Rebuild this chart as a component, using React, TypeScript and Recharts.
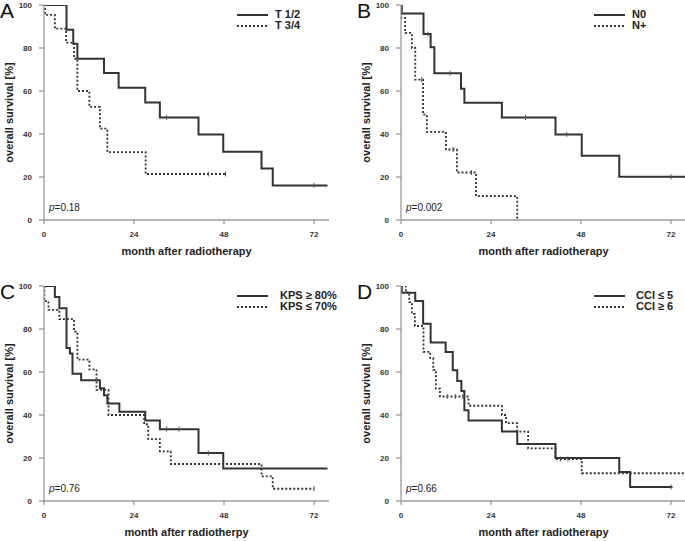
import React from 'react';
import { LineChart, Line, XAxis, YAxis } from 'recharts';

// ---- Data (months, survival %) ----
// Panel A: T stage
const aSolidTime = [0, 6, 7.8, 8.9, 16, 19.9, 27, 30.9, 41.2, 47.8, 58, 61, 75.6];
const aSolidSurv = [100, 88.5, 82, 75, 68.4, 61.5, 54.6, 47.7, 39.8, 31.7, 24, 16.1, 16.1];
const aSolidCens = [32.7, 72];
const aDotTime = [0, 0.3, 2.9, 5.9, 8, 8.9, 12.1, 14.9, 16.9, 27.1, 48.4];
const aDotSurv = [100, 95.4, 89, 82.5, 75, 60, 52.6, 42.5, 31.6, 21.4, 21.4];
const aDotCens = [43.8, 48.4];

// Panel B: N stage
const bSolidTime = [0, 0.2, 6, 7.9, 8.9, 16, 16.9, 26.9, 41.2, 48.2, 58.2, 76];
const bSolidSurv = [100, 96, 86.5, 80.3, 68.3, 61.1, 54.5, 47.7, 39.8, 29.9, 20.1, 20.1];
const bSolidCens = [7.2, 13.1, 33.2, 44.2, 72];
const bDotTime = [0, 0.1, 1.1, 2.9, 3.8, 5.9, 6.9, 12, 14.9, 20, 31];
const bDotSurv = [100, 94, 87, 80, 65.3, 49, 41, 32.8, 22.1, 11.1, 0];
const bDotCens = [5.5, 13.9, 18.8];

// Panel C: KPS
const cSolidTime = [0, 2.9, 4.1, 6, 6.9, 7.6, 9.9, 14.9, 16, 16.9, 20.1, 27, 30.9, 41.2, 47.8, 75.6];
const cSolidSurv = [100, 94.9, 89.7, 71.2, 68.6, 59.2, 56.2, 52.5, 49.2, 45.4, 41.5, 37.5, 33.4, 22.3, 15.1, 15.1];
const cSolidCens = [14, 32.7, 36, 43.8];
const cDotTime = [0, 0.1, 1.2, 4.1, 8, 8.9, 12.1, 14, 17.2, 26.7, 27.8, 30.9, 33.8, 58, 61, 72];
const cDotSurv = [100, 93, 88.9, 84.6, 78.8, 65.8, 61.2, 51.7, 40, 35.7, 28.8, 23.1, 17.2, 11.5, 5.7, 5.7];
const cDotCens = [72];

// Panel D: CCI
const dSolidTime = [0, 0.2, 3.8, 5.9, 7.9, 11.9, 13.8, 15, 16.1, 16.9, 18, 26.9, 31, 41.2, 58.2, 61.1, 72.4];
const dSolidSurv = [100, 96.9, 93, 82.5, 73.7, 69.3, 60.8, 55.8, 51.2, 42.2, 37.5, 32.3, 26.5, 20, 13.5, 6.5, 6.5];
const dSolidCens = [72];
const dDotTime = [0, 1.3, 2.2, 2.9, 3.7, 6, 7.8, 8.6, 9.3, 10.4, 18, 26.9, 28, 31, 33.9, 41.2, 48.2, 76];
const dDotSurv = [100, 97, 92.5, 87, 81.4, 69.4, 66.5, 61, 52.3, 48.6, 44.3, 40, 36.2, 32.3, 24.5, 19.5, 12.9, 12.9];
const dDotCens = [12.3, 14.5, 16.5, 42.5, 44.5];

const xTicks = [0, 24, 48, 72];
const yTicks = [0, 20, 40, 60, 80, 100];

const FONT = '"Liberation Sans", Arial, Helvetica, sans-serif';
const LINE = '#333333';
const AXIS = '#9a9a9a';

type Pt = { t: number; s: number; c?: boolean };

function build(times: number[], surv: number[], cens: number[]): Pt[] {
  const pts: Pt[] = times.map((t, i) => ({ t, s: surv[i] }));
  cens.forEach((ct) => {
    let s = surv[0];
    for (let i = 0; i < times.length; i++) if (times[i] <= ct) s = surv[i];
    const existing = pts.find((p) => p.t === ct);
    if (existing) existing.c = true;
    else pts.push({ t: ct, s, c: true });
  });
  pts.sort((a, b) => a.t - b.t);
  return pts;
}

const censorDot = (props: any) => {
  const { cx, cy, payload, index } = props;
  if (!payload || !payload.c || cx == null || cy == null) return <g key={`d${index}`} />;
  return <line key={`d${index}`} x1={cx} x2={cx} y1={cy - 2.5} y2={cy + 2.5} stroke="#555" strokeWidth={1} />;
};

type PanelProps = {
  left: number;
  top: number;
  letter: string;
  solid: Pt[];
  dotted: Pt[];
  solidName: string;
  dottedName: string;
  legendTextX: number;
  p: string;
  xTitle: string;
  width: number;
};

function Panel({ left, top, letter, solid, dotted, solidName, dottedName, legendTextX, p, xTitle, width }: PanelProps) {
  const xLabel = (props: any) => {
    const vb = props.viewBox || {};
    return (
      <text x={vb.x + vb.width / 2} y={vb.y + 35} textAnchor="middle" fontFamily={FONT} fontWeight="bold" fontSize={11} fill="#222">
        {xTitle}
      </text>
    );
  };
  const yLabel = (props: any) => {
    const vb = props.viewBox || {};
    const cx = 8.5;
    const cy = vb.y + vb.height / 2;
    return (
      <text x={cx} y={cy} transform={`rotate(-90 ${cx} ${cy})`} textAnchor="middle" dominantBaseline="central" fontFamily={FONT} fontWeight="bold" fontSize={11} fill="#222">
        overall survival [%]
      </text>
    );
  };
  const tick = { fontSize: 8, fontWeight: 'bold', fill: '#333', fontFamily: FONT };
  return (
    <div style={{ position: 'absolute', left, top, width, height: 270, overflow: 'hidden' }}>
      <LineChart width={340} height={270} margin={{ top: 5, right: 11, left: 0, bottom: 0 }}>
        <XAxis
          dataKey="t"
          type="number"
          domain={[0, 76]}
          ticks={xTicks}
          allowDataOverflow
          stroke={AXIS}
          strokeWidth={1.3}
          tickSize={4}
          tickMargin={7}
          tick={tick}
          height={50}
          label={xLabel}
        />
        <YAxis
          type="number"
          domain={[0, 100]}
          ticks={yTicks}
          allowDataOverflow
          stroke={AXIS}
          strokeWidth={1.3}
          tickSize={5}
          tickMargin={7}
          tick={tick}
          width={44}
          label={yLabel}
        />
        <Line data={dotted} dataKey="s" type="stepAfter" stroke={LINE} strokeWidth={1.8} strokeDasharray="2 2" dot={censorDot} activeDot={false} isAnimationActive={false} />
        <Line data={solid} dataKey="s" type="stepAfter" stroke={LINE} strokeWidth={2} dot={censorDot} activeDot={false} isAnimationActive={false} />
      </LineChart>
      <div style={{ position: 'absolute', left: 0, top: 0, fontFamily: FONT, fontSize: 21, lineHeight: '21px', color: '#111' }}>{letter}</div>
      <div style={{ position: 'absolute', left: 49, top: 203, fontFamily: FONT, fontSize: 10, lineHeight: '10px', color: '#222' }}>
        <i>p</i>={p}
      </div>
      <svg style={{ position: 'absolute', left: 0, top: 0 }} width={340} height={40}>
        <line x1={237} x2={268} y1={15} y2={15} stroke={LINE} strokeWidth={2} />
        <line x1={237} x2={268} y1={26} y2={26} stroke={LINE} strokeWidth={1.8} strokeDasharray="2 2" />
      </svg>
      <div style={{ position: 'absolute', left: legendTextX, top: 9, fontFamily: FONT, fontSize: 11, lineHeight: '11px', fontWeight: 'bold', color: '#222', whiteSpace: 'nowrap' }}>
        {solidName}
      </div>
      <div style={{ position: 'absolute', left: legendTextX, top: 20, fontFamily: FONT, fontSize: 11, lineHeight: '11px', fontWeight: 'bold', color: '#222', whiteSpace: 'nowrap' }}>
        {dottedName}
      </div>
    </div>
  );
}

export default function App() {
  return (
    <div style={{ position: 'absolute', left: 0, top: 0, width: 685, height: 541, overflow: 'hidden', background: '#fff' }}>
      <Panel left={0} top={0} width={340} letter="A" solid={build(aSolidTime, aSolidSurv, aSolidCens)} dotted={build(aDotTime, aDotSurv, aDotCens)} solidName="T 1/2" dottedName="T 3/4" legendTextX={275} p="0.18" xTitle="month after radiotherapy" />
      <Panel left={357} top={0} width={328} letter="B" solid={build(bSolidTime, bSolidSurv, bSolidCens)} dotted={build(bDotTime, bDotSurv, bDotCens)} solidName="N0" dottedName="N+" legendTextX={275} p="0.002" xTitle="month after radiotherapy" />
      <Panel left={0} top={281} width={340} letter="C" solid={build(cSolidTime, cSolidSurv, cSolidCens)} dotted={build(cDotTime, cDotSurv, cDotCens)} solidName="KPS ≥ 80%" dottedName="KPS ≤ 70%" legendTextX={280} p="0.76" xTitle="month after radiotherpy" />
      <Panel left={357} top={281} width={328} letter="D" solid={build(dSolidTime, dSolidSurv, dSolidCens)} dotted={build(dDotTime, dDotSurv, dDotCens)} solidName="CCI ≤ 5" dottedName="CCI ≥ 6" legendTextX={279} p="0.66" xTitle="month after radiotherapy" />
    </div>
  );
}
